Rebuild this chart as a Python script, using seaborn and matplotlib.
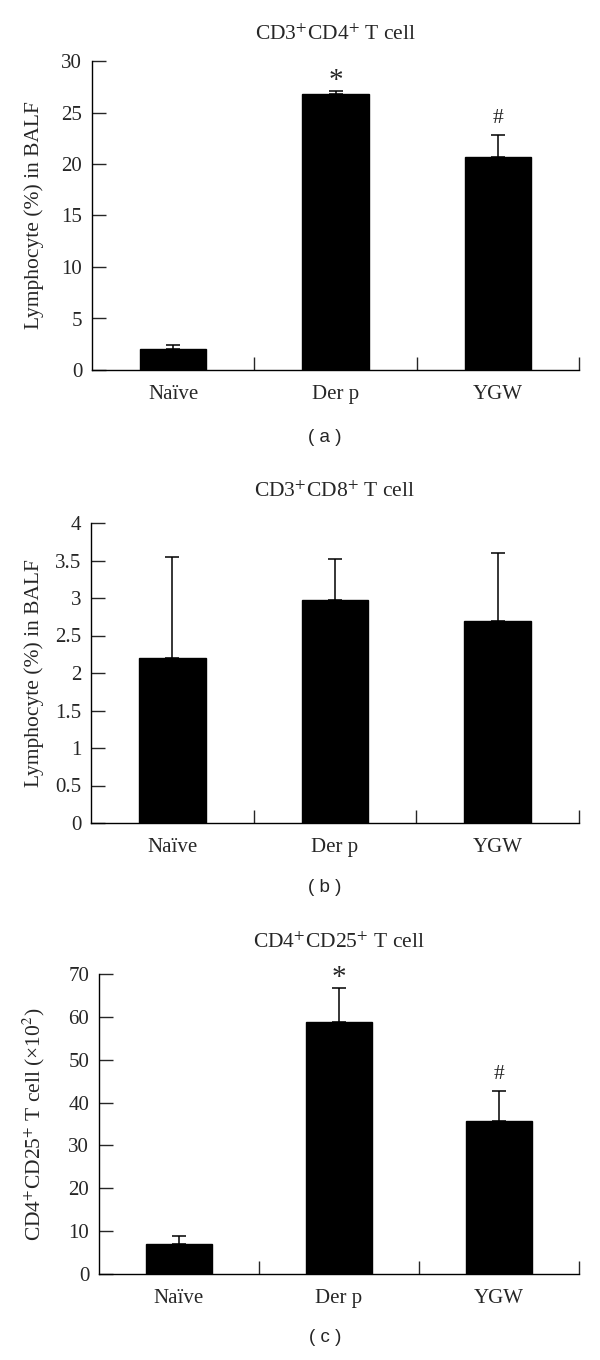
import numpy as np
import pandas as pd
import seaborn as sns
import matplotlib.pyplot as plt
from matplotlib.ticker import FixedLocator

# data
groups = ["Naïve", "Der p", "YGW"]

cd4_mean = [2.0, 26.8, 20.7]
cd4_err = [0.4, 0.3, 2.1]
cd4_marks = ["", "*", "#"]

cd8_mean = [2.2, 2.98, 2.69]
cd8_err = [1.35, 0.54, 0.91]
cd8_marks = ["", "", ""]

treg_mean = [6.9, 58.9, 35.7]
treg_err = [2.0, 7.8, 7.0]
treg_marks = ["", "*", "#"]

titles = [r"CD3$^{+}$CD4$^{+}$ T cell", r"CD3$^{+}$CD8$^{+}$ T cell",
          r"CD4$^{+}$CD25$^{+}$ T cell"]
ylabels = ["Lymphocyte (%) in BALF", "Lymphocyte (%) in BALF",
           r"CD4$^{+}$CD25$^{+}$ T cell (×10$^{2}$)"]
yticks = [[0, 5, 10, 15, 20, 25, 30],
          [0, 0.5, 1, 1.5, 2, 2.5, 3, 3.5, 4],
          [0, 10, 20, 30, 40, 50, 60, 70]]
ytick_labels = [["0", "5", "10", "15", "20", "25", "30"],
                ["0", "0.5", "1", "1.5", "2", "2.5", "3", "3.5", "4"],
                ["0", "10", "20", "30", "40", "50", "60", "70"]]
panel_tags = ["( a )", "( b )", "( c )"]

sns.set_style("ticks")
plt.rcParams["font.family"] = ["Liberation Serif", "DejaVu Serif"]
plt.rcParams["mathtext.fontset"] = "stix"

W, H = 600, 1360
fig = plt.figure(figsize=(W / 100, H / 100), dpi=100)

# axes boxes in pixels: left, right, top, bottom
boxes = [(92, 579, 61, 370), (91, 579, 523, 823), (99, 579, 974, 1274)]
title_y = [35, 492, 943]
tag_y = [438, 888, 1337]
label_x = [44, 44, 47]

panels = [(cd4_mean, cd4_err, cd4_marks),
          (cd8_mean, cd8_err, cd8_marks),
          (treg_mean, treg_err, treg_marks)]

for i, (mean, err, marks) in enumerate(panels):
    l, r, t, b = boxes[i]
    ax = fig.add_axes([l / W, 1 - b / H, (r - l) / W, (b - t) / H])
    df = pd.DataFrame({"group": groups, "value": mean})
    sns.barplot(data=df, x="group", y="value", color="black", saturation=1,
                width=0.41, errorbar=None, edgecolor="black", ax=ax)
    ax.errorbar(np.arange(len(groups)), mean,
                yerr=[np.zeros(len(err)), err], fmt="none",
                ecolor="black", elinewidth=1.1, capsize=5, capthick=1.1)
    for j, m in enumerate(marks):
        if m:
            top = mean[j] + err[j]
            fs = 21 if m == "*" else 15.5
            off = -2 if m == "*" else 5
            ax.annotate(m, (j, top), xytext=(0, off),
                        textcoords="offset points", ha="center",
                        va="bottom", fontsize=fs)
    ax.set_xlim(-0.5, 2.5)
    ax.set_ylim(yticks[i][0], yticks[i][-1])
    ax.set_yticks(yticks[i])
    ax.set_yticklabels(ytick_labels[i])
    ax.xaxis.set_minor_locator(FixedLocator([0.5, 1.5, 2.5]))
    ax.tick_params(axis="y", direction="in", length=10, width=1,
                   pad=7, labelsize=15)
    ax.tick_params(axis="x", which="major", length=0, pad=11,
                   labelsize=15)
    ax.tick_params(axis="x", which="minor", direction="in", length=9.5,
                   width=1)
    for s in ["top", "right"]:
        ax.spines[s].set_visible(False)
    for s in ["left", "bottom"]:
        ax.spines[s].set_linewidth(1)
        ax.spines[s].set_color("black")
    ax.set_xlabel("")
    ax.set_ylabel(ylabels[i], fontsize=15.5)
    ax.yaxis.set_label_coords((label_x[i] - l) / (r - l), 0.5)
    fig.text((l + r) / 2 / W, 1 - title_y[i] / H, titles[i], ha="center",
             va="center", fontsize=15.5)
    fig.text(325 / W, 1 - tag_y[i] / H, panel_tags[i], ha="center",
             va="center", fontsize=13.5, family=["Liberation Sans", "DejaVu Sans"])

fig.savefig("out.png", dpi=100, facecolor="white")
